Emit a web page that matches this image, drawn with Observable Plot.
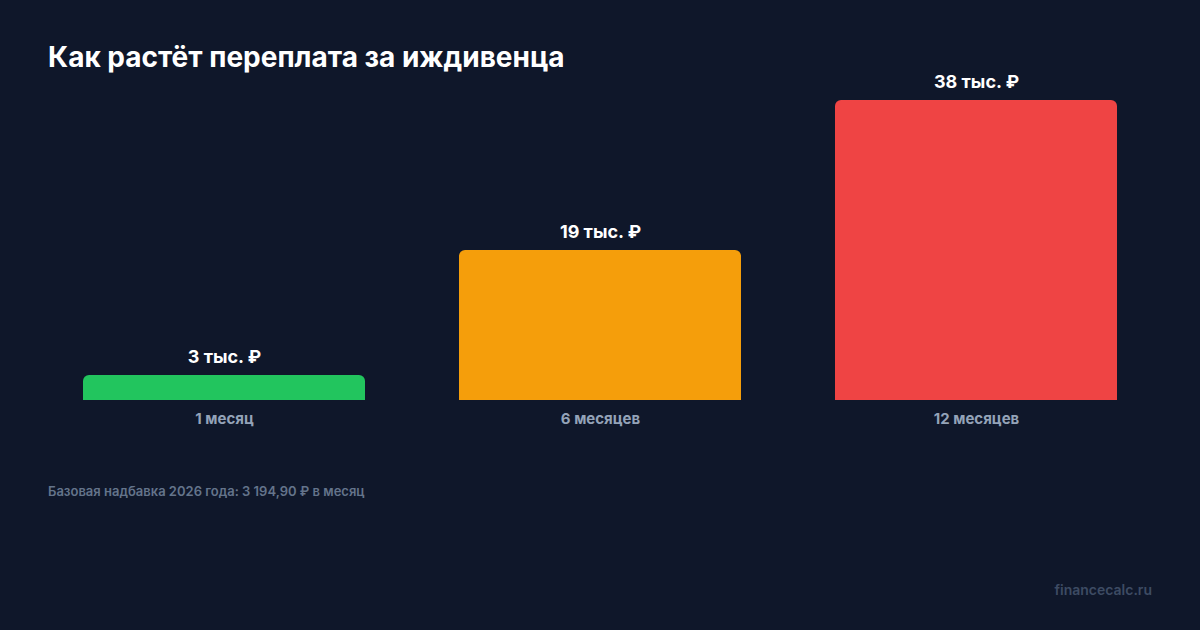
<!DOCTYPE html>
<html>
<head>
<meta charset="utf-8">
<script src="https://cdn.jsdelivr.net/npm/d3@7"></script>
<script src="https://cdn.jsdelivr.net/npm/@observablehq/plot@0.6"></script>
<style>
  html, body { margin: 0; padding: 0; background: #0f172a; }
  body { width: 1200px; height: 630px; position: relative; overflow: hidden; font-family: Inter, "Noto Sans", sans-serif; }
  #title { position: absolute; left: 48px; top: 40px; color: #ffffff; font-size: 28px; font-weight: 700; line-height: normal; white-space: nowrap; }
  #chart { position: absolute; left: 0; top: 60px; }
  #note { position: absolute; left: 48px; top: 483px; color: #64748b; font-size: 13px; font-weight: 600; white-space: nowrap; }
  #brand { position: absolute; right: 48px; top: 581px; color: #3d4b63; font-size: 14px; font-weight: 600; white-space: nowrap; }
</style>
</head>
<body>
<div id="title">Как растёт переплата за иждивенца</div>
<div id="chart"></div>
<div id="note">Базовая надбавка 2026 года: 3 194,90 ₽ в месяц</div>
<div id="brand">financecalc.ru</div>
<script>
const periods = ["1 месяц", "6 месяцев", "12 месяцев"];
const overpay = [3.19, 19.17, 38.34]; // тыс. ₽
const valueLabels = ["3 тыс. ₽", "19 тыс. ₽", "38 тыс. ₽"];
const barColors = ["#22c55e", "#f59e0b", "#ef4444"];

const data = periods.map((p, i) => ({period: p, value: overpay[i], label: valueLabels[i], color: barColors[i]}));

const chart = Plot.plot({
  width: 1200,
  height: 380,
  marginTop: 40,
  marginBottom: 40,
  marginLeft: 36,
  marginRight: 36,
  style: {background: "transparent", fontFamily: "Inter, 'Noto Sans', sans-serif", overflow: "visible"},
  x: {domain: periods, paddingInner: 0.25, paddingOuter: 0.125, label: null},
  y: {axis: null, domain: [0, d3.max(overpay)]},
  marks: [
    Plot.barY(data, {x: "period", y: "value", fill: "color", rx: 6, ry: 6, insetBottom: -10, clip: true}),
    Plot.text(data, {x: "period", y: "value", text: "label", dy: -18, fill: "#ffffff", fontSize: 18, fontWeight: 700}),
    Plot.axisX({tickSize: 0, tickPadding: 13, fontSize: 15, fontWeight: 700, fill: "#94a3b8", label: null})
  ]
});
document.getElementById("chart").appendChild(chart);
</script>
</body>
</html>
